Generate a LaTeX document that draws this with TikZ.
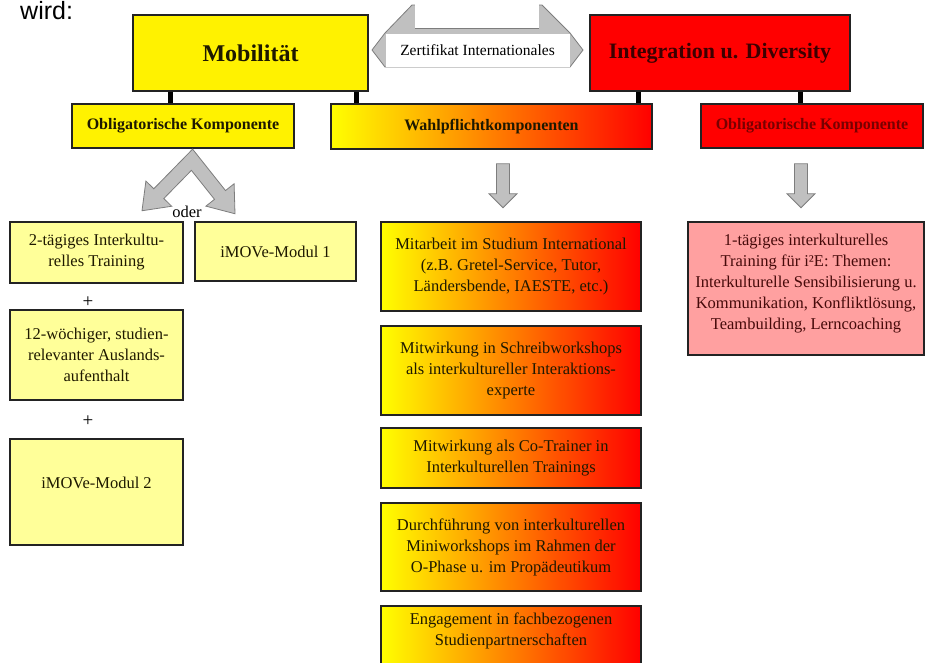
\documentclass[tikz,border=0pt]{standalone}
\usepackage{fontspec}
\setmainfont{Liberation Serif}
\newfontfamily\sansf{Liberation Sans}
\usetikzlibrary{calc}
\definecolor{lightyel}{RGB}{255,255,153}
\definecolor{pinkf}{RGB}{255,160,160}
\definecolor{boxline}{RGB}{35,35,35}
\definecolor{arrgray}{RGB}{192,192,192}
\definecolor{arrline}{RGB}{125,125,125}
\definecolor{hdred}{RGB}{120,0,0}
\definecolor{txtdark}{RGB}{30,25,0}
\definecolor{txtbrown}{RGB}{70,10,10}
\definecolor{titlered}{RGB}{60,0,0}
\begin{document}
\begin{tikzpicture}[x=1pt,y=-1pt,
  box/.style={draw=boxline, line width=1.5pt, inner sep=0pt, align=center},
  titlebox/.style={box, minimum height=76pt, font=\bfseries\fontsize{23}{27}\selectfont},
  headbox/.style={box, minimum width=222pt, minimum height=44pt, font=\bfseries\fontsize{16}{19}\selectfont},
  lightbox/.style={box, fill=lightyel, text=txtdark, minimum width=173pt, font=\fontsize{16.5}{21}\selectfont},
  gradbox/.style={box, left color=yellow, right color=red, text=txtdark, minimum width=260pt, font=\fontsize{16.5}{21}\selectfont},
  bodytxt/.style={inner sep=0pt, align=center, font=\fontsize{16.5}{21}\selectfont},
  stub/.style={line width=5pt, black},
  blk/.style={fill=arrgray, draw=arrline, line width=0.8pt, line join=miter},
  downblk/.pic={\filldraw[blk] (-6.5,0) -- (6.5,0) -- (6.5,30) -- (14,30) -- (0,44) -- (-14,30) -- (-6.5,30) -- cycle;}
]
\useasboundingbox (0,0) rectangle (925,662);
\clip (0,0) rectangle (925,662);

% intro text
\node[anchor=base west, inner sep=0pt, font=\sansf\fontsize{25}{28}\selectfont] (wird) at (20,19) {wird:};

% certificate double arrow
\filldraw[blk] (372,50) -- (385,33) -- (412,5) -- (542,5) -- (570,33) -- (583,50) -- (570,67) -- (385,67) -- cycle;
\fill[white] (415,-2) rectangle (539,28);
\draw[arrline, line width=1pt] (415,28) -- (539,28);
\node[fill=white, minimum width=184pt, minimum height=33pt, inner sep=0pt, font=\fontsize{15.5}{18}\selectfont] (zert) at (477.5,50) {Zertifikat Internationales};

% top level
\node[titlebox, fill=yellow, text=txtdark, minimum width=235pt] (mob) at (250.5,53) {\fontsize{24}{28}\selectfont Mobilität};
\node[titlebox, fill=red, text=titlered, minimum width=260pt] (intd) at (720,53) {\fontsize{22}{27}\selectfont Integration u. Diversity};

% second level
\node[headbox, fill=yellow, text=txtdark] (okl) at (183,126) {Obligatorische Komponente};
\node[headbox, left color=yellow, right color=red, text=txtdark, minimum width=321pt, minimum height=45pt] (wpk) at (491.5,126.5) {Wahlpflichtkomponenten};
\node[headbox, fill=red, text=hdred] (okr) at (812,126) {Obligatorische Komponente};

% stubs
\draw[stub] ([xshift=38pt]mob.south west) -- ([xshift=38pt]mob.south west |- okl.north);
\draw[stub] ([xshift=-12pt]mob.south east) -- ([xshift=-12pt]mob.south east |- wpk.north);
\draw[stub] ([xshift=49pt]intd.south west) -- ([xshift=49pt]intd.south west |- wpk.north);
\draw[stub] ([xshift=-50pt]intd.south east) -- ([xshift=-50pt]intd.south east |- okr.north);

% fork arrow (oder)
\coordinate (forktop) at ([xshift=9.6pt, yshift=-0.4pt]okl.south);
\begin{scope}[shift={(forktop)}]
\filldraw[blk] (0,0) -- (32.9,41.4) -- (41.5,34.6) -- (42.4,64.6) -- (13.3,57.0) -- (21.9,50.2) -- (-1.2,21.2)
  -- (-28.8,49.4) -- (-20.9,57.1) -- (-50.6,61.6) -- (-46.7,31.9) -- (-38.8,39.6) -- cycle;
\end{scope}
\node[bodytxt] (oder) at (187,212) {oder};

% left column
\node[lightbox, minimum height=61pt] (b1) at (96.5,252.5) {2-tägiges Interkultu-\\relles Training};
\node[lightbox, minimum width=161pt, minimum height=59pt] (m1) at (275.5,251.5) {iMOVe-Modul 1};
\node[bodytxt, font=\fontsize{19}{21}\selectfont] (p1) at (88,302) {+};
\node[lightbox, minimum height=90pt] (b2) at (96.5,355) {12-wöchiger, studien-\\relevanter Auslands-\\aufenthalt};
\node[bodytxt, font=\fontsize{19}{21}\selectfont] (p2) at (88,421) {+};
\node[lightbox, minimum height=106pt] (b3) at (96.5,492) {};
\node[bodytxt, text=txtdark] (b3t) at ([yshift=9pt]b3.center) {iMOVe-Modul 2};

% down arrows
\pic at ([xshift=11.5pt, yshift=-14pt]wpk.south) {downblk};
\pic at ([xshift=-11pt, yshift=-15pt]okr.south) {downblk};

% middle column
\node[gradbox, minimum height=89pt] (g1) at (511,266.5) {Mitarbeit im Studium International\\(z.B. Gretel-Service, Tutor,\\Ländersbende, IAESTE, etc.)};
\node[gradbox, minimum height=89pt] (g2) at (511,370.5) {Mitwirkung in Schreibworkshops\\als interkultureller Interaktions-\\experte};
\node[gradbox, minimum height=60pt] (g3) at (511,458) {Mitwirkung als Co-Trainer in\\Interkulturellen Trainings};
\node[gradbox, minimum height=88pt] (g4) at (511,547) {Durchführung von interkulturellen\\Miniworkshops im Rahmen der\\O-Phase u. im Propädeutikum};
\node[gradbox, minimum height=70pt] (g5) at (511,641) {};
\node[bodytxt, text=txtdark] (g5t) at ([yshift=10pt]g5.center) {Engagement in fachbezogenen\\Studienpartnerschaften};

% right column
\node[box, fill=pinkf, minimum width=236pt, minimum height=133pt] (pk) at (806,288.5) {};
\node[bodytxt, text=txtbrown] (pkt) at ([yshift=5pt]pk.center) {1-tägiges interkulturelles\\Training für i²E: Themen:\\Interkulturelle Sensibilisierung u.\\Kommunikation, Konfliktlösung,\\Teambuilding, Lerncoaching};
\end{tikzpicture}
\end{document}
